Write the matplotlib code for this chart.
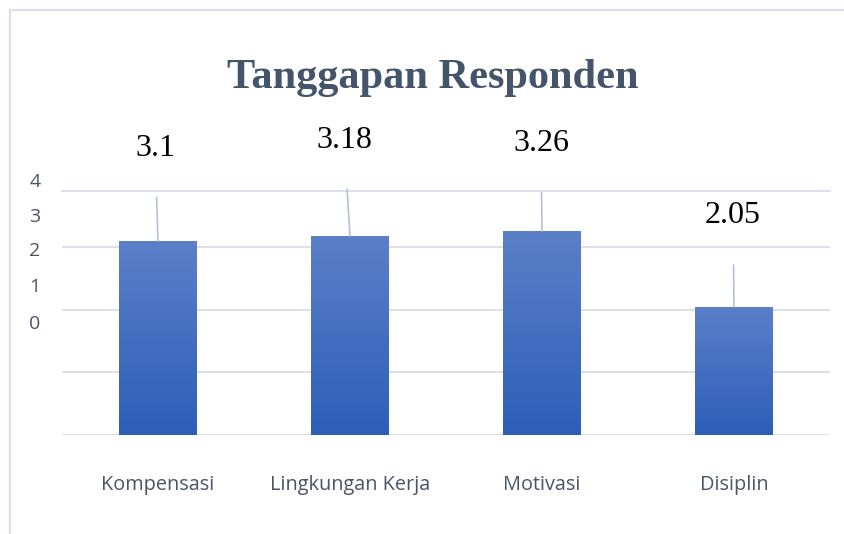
import numpy as np
import matplotlib
matplotlib.use("Agg")
import matplotlib.pyplot as plt
from matplotlib.lines import Line2D
from matplotlib.colors import LinearSegmentedColormap

categories = ["Kompensasi", "Lingkungan Kerja", "Motivasi", "Disiplin"]
values = [3.1, 3.18, 3.26, 2.05]
value_labels = ["3.1", "3.18", "3.26", "2.05"]
ytick_values = [0, 1, 2, 3, 4]
title = "Tanggapan Responden"

W, H = 845, 534
fig = plt.figure(figsize=(W / 100, H / 100), dpi=100)
fig.patch.set_facecolor("white")

def fx(px):
    return px / W

def fy(py):
    return (H - py) / H

ax = fig.add_axes([fx(62), fy(435), fx(830) - fx(62), fy(191) - fy(435)])
ax.set_xlim(-0.5, len(categories) - 0.5)
ax.set_ylim(0, 3.9)

grid_c = "#DCE0E9"
ax.set_yticks(ytick_values)
ax.set_yticklabels([])
ax.tick_params(axis="y", length=0)
ax.yaxis.grid(True, color=grid_c, linewidth=1.4)
ax.set_axisbelow(True)
for s in ["left", "right", "bottom"]:
    ax.spines[s].set_visible(False)
ax.spines["top"].set_color(grid_c)
ax.spines["top"].set_linewidth(1.4)

cmap = LinearSegmentedColormap.from_list("bar", ["#2D5EB8", "#5B80C8"])
grad = np.linspace(0, 1, 256).reshape(-1, 1)
bw = 0.406
x = np.arange(len(categories))
bars = ax.bar(x, values, width=bw, color="none", edgecolor="none", zorder=2)
for b in bars:
    x0 = b.get_x()
    im = ax.imshow(grad, cmap=cmap, origin="lower", aspect="auto",
                   extent=[x0, x0 + b.get_width(), 0, b.get_height()], zorder=2)
    im.set_clip_path(b)
ax.set_xlim(-0.5, len(categories) - 0.5)
ax.set_ylim(0, 3.9)

# data labels with leader lines (offsets in pixels)
offsets = [(-3, 93), (-6, 96), (-1, 88), (-1, 91)]
for i, (v, lab) in enumerate(zip(values, value_labels)):
    dx, dy = offsets[i]
    ax.annotate(lab, xy=(i, v), xytext=(dx * 0.72, dy * 0.72),
                textcoords="offset points", ha="center", va="center",
                fontsize=23, family="Liberation Serif", color="black",
                annotation_clip=False,
                arrowprops=dict(arrowstyle="-", color="#B5C1D2", lw=1.2,
                                shrinkA=23, shrinkB=0))

ax.set_xticks(x)
ax.set_xticklabels(categories, fontsize=14.3, family="Open Sans", color="#4A5568")
ax.tick_params(axis="x", length=0, pad=29)

# misplaced y tick labels as in the reference
ylab_py = [324, 287, 251, 217, 182]
for val, py in zip(ytick_values, ylab_py):
    fig.text(fx(35), fy(py), str(val), ha="center", va="center",
             fontsize=14, family="Open Sans", color="#4A5568")

fig.text(fx(433), fy(88), title, ha="center", va="baseline",
         fontsize=30.5, family="Liberation Serif", fontweight="bold", color="#44546A")

# chart border (left and top)
bc = "#DCE0EA"
fig.add_artist(Line2D([fx(10), fx(10)], [0, fy(10)], color=bc, lw=1.6))
fig.add_artist(Line2D([fx(10), 1], [fy(10), fy(10)], color=bc, lw=1.6))

fig.savefig("out.png", dpi=100)
